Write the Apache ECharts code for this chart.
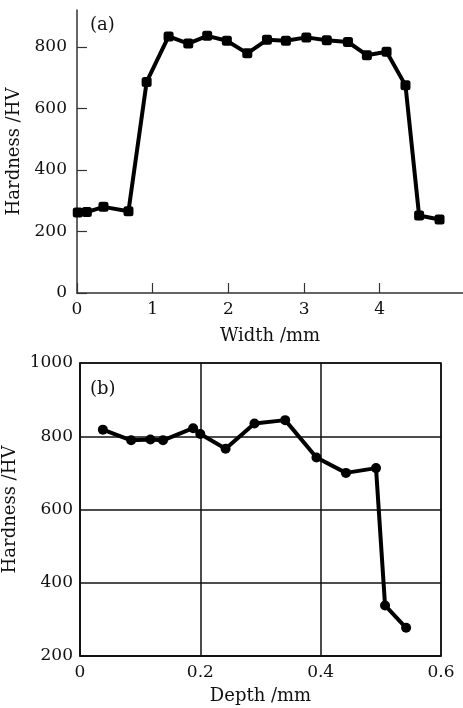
<!DOCTYPE html>
<html>
<head>
<meta charset="utf-8">
<script src="https://cdn.jsdelivr.net/npm/echarts@6/dist/echarts.min.js"></script>
<style>
html,body{margin:0;padding:0;background:#fff;}
#chart{width:463px;height:708px;}
</style>
</head>
<body>
<div id="chart"></div>
<script>
// Panel (a): hardness across width
var widthMm = [0.01, 0.13, 0.35, 0.68, 0.92, 1.21, 1.47, 1.72, 1.98, 2.25, 2.51, 2.76, 3.03, 3.30, 3.58, 3.83, 4.09, 4.34, 4.52, 4.79];
var hardnessA = [262, 263, 280, 266, 686, 834, 811, 836, 820, 779, 823, 820, 831, 822, 816, 773, 784, 675, 252, 239];
var ticksAx = [0, 1, 2, 3, 4];
var ticksAy = [0, 200, 400, 600, 800];

// Panel (b): hardness along depth
var depthMm = [0.038, 0.085, 0.117, 0.138, 0.188, 0.200, 0.242, 0.290, 0.341, 0.393, 0.442, 0.492, 0.507, 0.542];
var hardnessB = [818, 789, 791, 789, 822, 806, 766, 835, 844, 742, 700, 713, 338, 277];

var FONT = 'DejaVu Serif';
var INK = '#111';

function pairs(xs, ys) { return xs.map(function (x, i) { return [x, ys[i]]; }); }
function plain(v) { return String(Math.round(v * 10) / 10); }

var chart = echarts.init(document.getElementById('chart'), null, {renderer: 'canvas'});
chart.setOption({
  backgroundColor: '#fff',
  animation: false,
  textStyle: {fontFamily: FONT, color: INK},
  grid: [
    {left: 77, top: 10, width: 386, height: 283, show: false, containLabel: false, outerBoundsMode: 'none'},
    {left: 80, top: 363, width: 361, height: 293, show: true, borderColor: INK, borderWidth: 1.5, backgroundColor: 'transparent', containLabel: false, outerBoundsMode: 'none'}
  ],
  xAxis: [
    {
      gridIndex: 0, type: 'value', min: 0, max: 5.1,
      name: 'Width /mm', nameLocation: 'middle', nameGap: 34,
      nameTextStyle: {fontFamily: FONT, fontSize: 18, color: INK},
      axisLine: {show: true, lineStyle: {color: '#333', width: 1.5}},
      axisTick: {show: true, inside: true, length: 10, lineStyle: {color: '#333', width: 1.2}, customValues: ticksAx},
      axisLabel: {fontFamily: FONT, fontSize: 17, color: INK, margin: 8, customValues: ticksAx, formatter: plain},
      splitLine: {show: false}
    },
    {
      gridIndex: 1, type: 'value', min: 0, max: 0.6, interval: 0.2,
      name: 'Depth /mm', nameLocation: 'middle', nameGap: 31,
      nameTextStyle: {fontFamily: FONT, fontSize: 18, color: INK},
      axisLine: {show: true, lineStyle: {color: INK, width: 1.5}},
      axisTick: {show: false},
      axisLabel: {fontFamily: FONT, fontSize: 17, color: INK, margin: 8, formatter: plain},
      splitLine: {show: true, lineStyle: {color: INK, width: 1.5}}
    }
  ],
  yAxis: [
    {
      gridIndex: 0, type: 'value', min: 0, max: 920,
      name: 'Hardness /HV', nameLocation: 'middle', nameGap: 48,
      nameTextStyle: {fontFamily: FONT, fontSize: 18, color: INK},
      axisLine: {show: true, lineStyle: {color: '#333', width: 1.5}},
      axisTick: {show: true, inside: true, length: 10, lineStyle: {color: '#333', width: 1.2}, customValues: ticksAy},
      axisLabel: {fontFamily: FONT, fontSize: 17, color: INK, margin: 10, customValues: ticksAy, formatter: plain},
      splitLine: {show: false}
    },
    {
      gridIndex: 1, type: 'value', min: 200, max: 1000, interval: 200,
      name: 'Hardness /HV', nameLocation: 'middle', nameGap: 52,
      nameTextStyle: {fontFamily: FONT, fontSize: 18, color: INK},
      axisLine: {show: true, lineStyle: {color: INK, width: 1.5}},
      axisTick: {show: false},
      axisLabel: {fontFamily: FONT, fontSize: 17, color: INK, margin: 7, formatter: plain},
      splitLine: {show: true, lineStyle: {color: INK, width: 1.5}}
    }
  ],
  series: [
    {
      type: 'line', xAxisIndex: 0, yAxisIndex: 0,
      data: pairs(widthMm, hardnessA),
      symbol: 'roundRect', symbolSize: 10,
      lineStyle: {color: '#000', width: 4},
      itemStyle: {color: '#000'},
      z: 5
    },
    {
      type: 'line', xAxisIndex: 1, yAxisIndex: 1,
      data: pairs(depthMm, hardnessB),
      symbol: 'circle', symbolSize: 10,
      lineStyle: {color: '#000', width: 4},
      itemStyle: {color: '#000'},
      z: 5
    }
  ],
  graphic: [
    {type: 'text', left: 90, top: 16, style: {text: '(a)', font: '18px "DejaVu Serif"', fill: INK}},
    {type: 'text', left: 90, top: 380, style: {text: '(b)', font: '18px "DejaVu Serif"', fill: INK}}
  ]
});
</script>
</body>
</html>
